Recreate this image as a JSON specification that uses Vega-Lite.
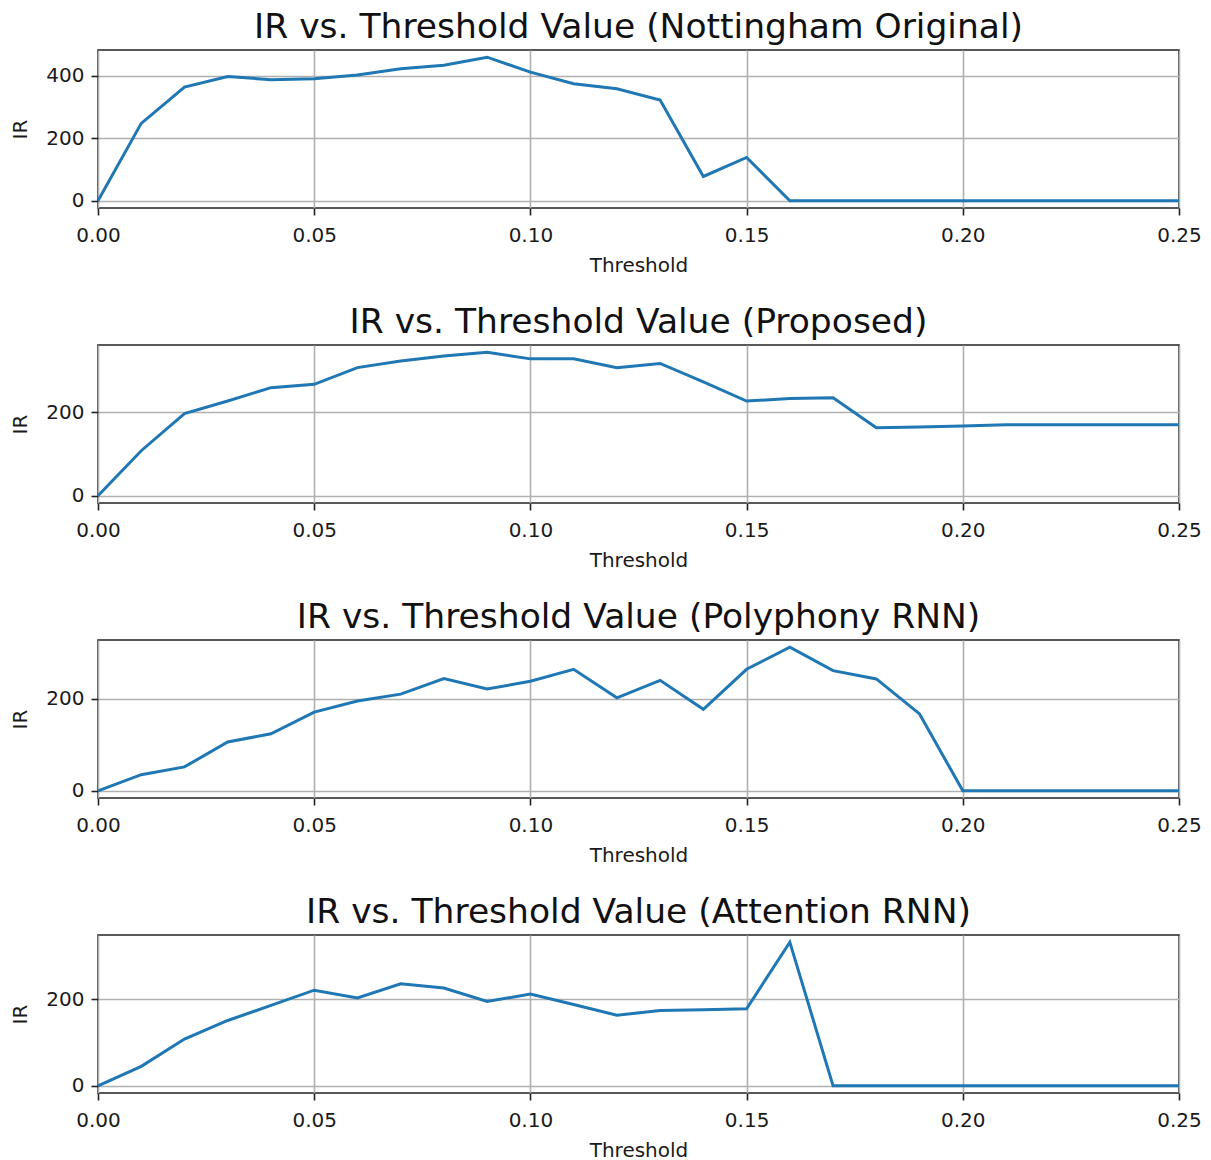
{
  "$schema": "https://vega.github.io/schema/vega-lite/v6.json",
  "background": "white",
  "padding": {"left": 10, "top": 8, "right": 5, "bottom": 5},
  "spacing": 27,
  "config": {
    "font": "DejaVu Sans",
    "view": {"stroke": "#222222", "strokeWidth": 1.6},
    "axis": {
      "labelFont": "DejaVu Sans", "labelFontSize": 20, "labelColor": "#1a1a1a",
      "titleFont": "DejaVu Sans", "titleFontSize": 20, "titleFontWeight": "normal", "titleColor": "#1a1a1a",
      "tickSize": 7, "tickWidth": 1.6, "tickColor": "#222222",
      "labelPadding": 7, "titlePadding": 15,
      "gridColor": "#b0b0b0", "gridWidth": 1.6, "gridOpacity": 1,
      "domain": false, "labelFlush": false, "labelOverlap": false
    },
    "axisX": {"labelPadding": 10, "titlePadding": 10},
    "title": {"font": "DejaVu Sans", "fontSize": 34.5, "fontWeight": "normal", "color": "#111111", "offset": 5, "frame": "group", "anchor": "middle", "baseline": "alphabetic"}
  },
  "datasets": {
    "nottingham": [
      {"threshold": 0.00, "ir": 0}, {"threshold": 0.01, "ir": 248}, {"threshold": 0.02, "ir": 364}, {"threshold": 0.03, "ir": 398},
      {"threshold": 0.04, "ir": 388}, {"threshold": 0.05, "ir": 391}, {"threshold": 0.06, "ir": 403}, {"threshold": 0.07, "ir": 423},
      {"threshold": 0.08, "ir": 434}, {"threshold": 0.09, "ir": 460}, {"threshold": 0.10, "ir": 412}, {"threshold": 0.11, "ir": 375},
      {"threshold": 0.12, "ir": 359}, {"threshold": 0.13, "ir": 323}, {"threshold": 0.14, "ir": 78}, {"threshold": 0.15, "ir": 139},
      {"threshold": 0.16, "ir": 0}, {"threshold": 0.17, "ir": 0}, {"threshold": 0.18, "ir": 0}, {"threshold": 0.19, "ir": 0},
      {"threshold": 0.20, "ir": 0}, {"threshold": 0.21, "ir": 0}, {"threshold": 0.22, "ir": 0}, {"threshold": 0.23, "ir": 0},
      {"threshold": 0.24, "ir": 0}, {"threshold": 0.25, "ir": 0}
    ],
    "proposed": [
      {"threshold": 0.00, "ir": 0}, {"threshold": 0.01, "ir": 108}, {"threshold": 0.02, "ir": 197}, {"threshold": 0.03, "ir": 227},
      {"threshold": 0.04, "ir": 259}, {"threshold": 0.05, "ir": 267}, {"threshold": 0.06, "ir": 307}, {"threshold": 0.07, "ir": 323},
      {"threshold": 0.08, "ir": 335}, {"threshold": 0.09, "ir": 344}, {"threshold": 0.10, "ir": 328}, {"threshold": 0.11, "ir": 328},
      {"threshold": 0.12, "ir": 307}, {"threshold": 0.13, "ir": 317}, {"threshold": 0.14, "ir": 273}, {"threshold": 0.15, "ir": 227},
      {"threshold": 0.16, "ir": 233}, {"threshold": 0.17, "ir": 235}, {"threshold": 0.18, "ir": 163}, {"threshold": 0.19, "ir": 165},
      {"threshold": 0.20, "ir": 167}, {"threshold": 0.21, "ir": 170}, {"threshold": 0.22, "ir": 170}, {"threshold": 0.23, "ir": 170},
      {"threshold": 0.24, "ir": 170}, {"threshold": 0.25, "ir": 170}
    ],
    "polyphony": [
      {"threshold": 0.00, "ir": 0}, {"threshold": 0.01, "ir": 35}, {"threshold": 0.02, "ir": 52}, {"threshold": 0.03, "ir": 106},
      {"threshold": 0.04, "ir": 124}, {"threshold": 0.05, "ir": 171}, {"threshold": 0.06, "ir": 195}, {"threshold": 0.07, "ir": 210},
      {"threshold": 0.08, "ir": 244}, {"threshold": 0.09, "ir": 221}, {"threshold": 0.10, "ir": 238}, {"threshold": 0.11, "ir": 264},
      {"threshold": 0.12, "ir": 202}, {"threshold": 0.13, "ir": 240}, {"threshold": 0.14, "ir": 177}, {"threshold": 0.15, "ir": 264},
      {"threshold": 0.16, "ir": 312}, {"threshold": 0.17, "ir": 261}, {"threshold": 0.18, "ir": 243}, {"threshold": 0.19, "ir": 167},
      {"threshold": 0.20, "ir": 0}, {"threshold": 0.21, "ir": 0}, {"threshold": 0.22, "ir": 0}, {"threshold": 0.23, "ir": 0},
      {"threshold": 0.24, "ir": 0}, {"threshold": 0.25, "ir": 0}
    ],
    "attention": [
      {"threshold": 0.00, "ir": 0}, {"threshold": 0.01, "ir": 45}, {"threshold": 0.02, "ir": 108}, {"threshold": 0.03, "ir": 151},
      {"threshold": 0.04, "ir": 186}, {"threshold": 0.05, "ir": 221}, {"threshold": 0.06, "ir": 203}, {"threshold": 0.07, "ir": 236},
      {"threshold": 0.08, "ir": 226}, {"threshold": 0.09, "ir": 195}, {"threshold": 0.10, "ir": 212}, {"threshold": 0.11, "ir": 188},
      {"threshold": 0.12, "ir": 163}, {"threshold": 0.13, "ir": 174}, {"threshold": 0.14, "ir": 176}, {"threshold": 0.15, "ir": 178},
      {"threshold": 0.16, "ir": 332}, {"threshold": 0.17, "ir": 0}, {"threshold": 0.18, "ir": 0}, {"threshold": 0.19, "ir": 0},
      {"threshold": 0.20, "ir": 0}, {"threshold": 0.21, "ir": 0}, {"threshold": 0.22, "ir": 0}, {"threshold": 0.23, "ir": 0},
      {"threshold": 0.24, "ir": 0}, {"threshold": 0.25, "ir": 0}
    ]
  },
  "vconcat": [
    {
      "title": "IR vs. Threshold Value (Nottingham Original)",
      "width": 1081, "height": 158,
      "data": {"name": "nottingham"},
      "mark": {"type": "line", "color": "#1f77b4", "strokeWidth": 3},
      "encoding": {
        "x": {"field": "threshold", "type": "quantitative", "scale": {"domain": [0, 0.25], "nice": false, "zero": false}, "axis": {"title": "Threshold", "values": [0, 0.05, 0.1, 0.15, 0.2, 0.25], "format": ".2f"}},
        "y": {"field": "ir", "type": "quantitative", "scale": {"domain": [-23, 483], "nice": false, "zero": false}, "axis": {"title": "IR", "values": [0, 200, 400]}}
      }
    },
    {
      "title": "IR vs. Threshold Value (Proposed)",
      "width": 1081, "height": 158,
      "data": {"name": "proposed"},
      "mark": {"type": "line", "color": "#1f77b4", "strokeWidth": 3},
      "encoding": {
        "x": {"field": "threshold", "type": "quantitative", "scale": {"domain": [0, 0.25], "nice": false, "zero": false}, "axis": {"title": "Threshold", "values": [0, 0.05, 0.1, 0.15, 0.2, 0.25], "format": ".2f"}},
        "y": {"field": "ir", "type": "quantitative", "scale": {"domain": [-17.2, 361.2], "nice": false, "zero": false}, "axis": {"title": "IR", "values": [0, 200]}}
      }
    },
    {
      "title": "IR vs. Threshold Value (Polyphony RNN)",
      "width": 1081, "height": 158,
      "data": {"name": "polyphony"},
      "mark": {"type": "line", "color": "#1f77b4", "strokeWidth": 3},
      "encoding": {
        "x": {"field": "threshold", "type": "quantitative", "scale": {"domain": [0, 0.25], "nice": false, "zero": false}, "axis": {"title": "Threshold", "values": [0, 0.05, 0.1, 0.15, 0.2, 0.25], "format": ".2f"}},
        "y": {"field": "ir", "type": "quantitative", "scale": {"domain": [-15.6, 327.6], "nice": false, "zero": false}, "axis": {"title": "IR", "values": [0, 200]}}
      }
    },
    {
      "title": "IR vs. Threshold Value (Attention RNN)",
      "width": 1081, "height": 158,
      "data": {"name": "attention"},
      "mark": {"type": "line", "color": "#1f77b4", "strokeWidth": 3},
      "encoding": {
        "x": {"field": "threshold", "type": "quantitative", "scale": {"domain": [0, 0.25], "nice": false, "zero": false}, "axis": {"title": "Threshold", "values": [0, 0.05, 0.1, 0.15, 0.2, 0.25], "format": ".2f"}},
        "y": {"field": "ir", "type": "quantitative", "scale": {"domain": [-16.6, 348.6], "nice": false, "zero": false}, "axis": {"title": "IR", "values": [0, 200]}}
      }
    }
  ]
}
